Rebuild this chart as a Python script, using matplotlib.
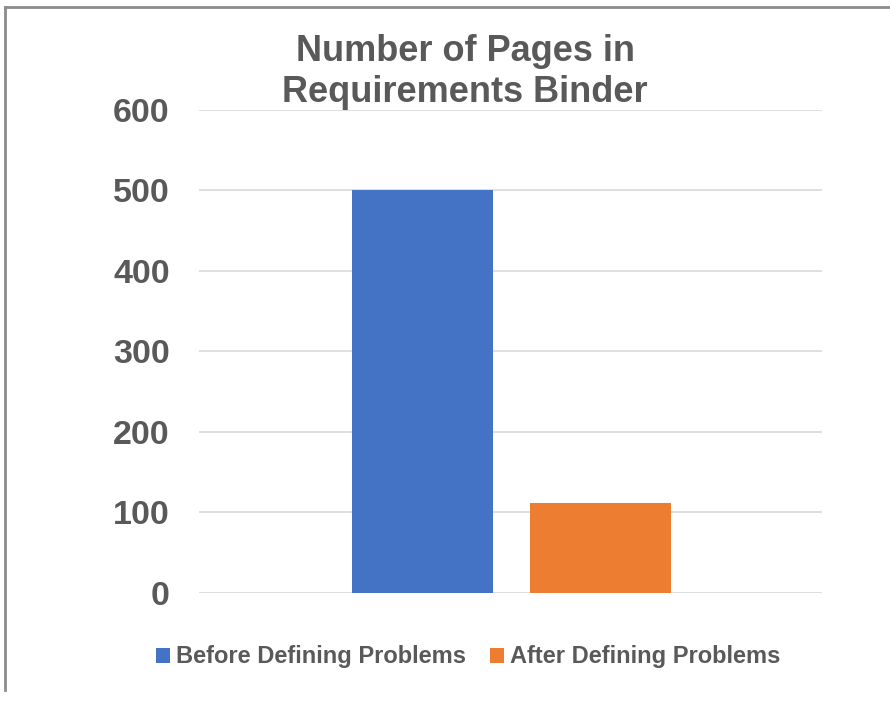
import matplotlib.pyplot as plt
from matplotlib.lines import Line2D

plt.rcParams['font.family'] = ['Liberation Sans', 'DejaVu Sans']

# data
series = ['Before Defining Problems', 'After Defining Problems']
values = [500, 112]
colors = ['#4472C4', '#ED7D31']
yticks = [0, 100, 200, 300, 400, 500, 600]

txt = '#595959'

fig = plt.figure(figsize=(8.9, 7.04), dpi=100)
ax = fig.add_axes([0.2236, 0.1577, 0.70, 0.6861])

offsets = [-0.1413, 0.1445]
w = 0.2263
for off, v, c, s in zip(offsets, values, colors, series):
    ax.bar(off, v, width=w, color=c, label=s, zorder=3)

ax.set_xlim(-0.5, 0.5)
ax.set_ylim(0, 600)
ax.set_yticks(yticks)
ax.set_yticklabels([str(t) for t in yticks], fontsize=24.5, fontweight='bold', color=txt)
ax.set_xticks([])
ax.tick_params(axis='y', length=0, pad=21)
ax.grid(axis='y', color='#D9D9D9', linewidth=1.2, zorder=0)
for sp in ax.spines.values():
    sp.set_visible(False)

fig.text(0.5225, 0.904 - 0.006, 'Number of Pages in\nRequirements Binder', ha='center', va='center',
         fontsize=26, fontweight='bold', color=txt, linespacing=1.22)

leg = ax.legend(loc='center', bbox_to_anchor=(0.526, 0.067), bbox_transform=fig.transFigure,
                ncol=2, frameon=False, fontsize=17, handlelength=0.6, handleheight=0.6,
                handletextpad=0.25, columnspacing=1.0)
for t in leg.get_texts():
    t.set_color(txt)
    t.set_fontweight('bold')

# frame lines around the picture (top and left)
fig.add_artist(Line2D([0.0056, 1.0], [0.990, 0.990], transform=fig.transFigure, color='#8C8C8C', lw=2))
fig.add_artist(Line2D([0.0056, 0.0056], [0.020, 0.990], transform=fig.transFigure, color='#8C8C8C', lw=2))

fig.savefig('out.png', dpi=100, facecolor='white')
